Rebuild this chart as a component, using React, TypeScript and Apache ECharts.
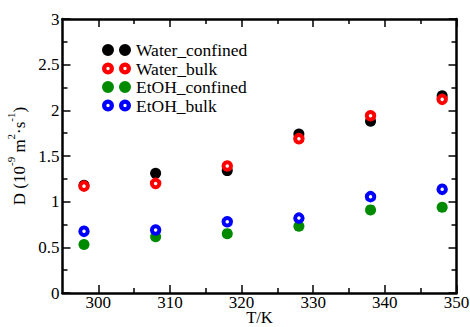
import React, { useEffect, useRef } from "react";
import * as echarts from "echarts";

const temperatures = [298, 308, 318, 328, 338, 348];
const waterConfined = [1.18, 1.31, 1.34, 1.74, 1.88, 2.16];
const waterBulk = [1.17, 1.2, 1.39, 1.69, 1.94, 2.12];
const etohConfined = [0.53, 0.615, 0.65, 0.73, 0.91, 0.94];
const etohBulk = [0.675, 0.69, 0.78, 0.82, 1.055, 1.135];
const xMajorTicks = [300, 310, 320, 330, 340, 350];
const xMinorTicks = [305, 315, 325, 335, 345];

const FONT = "Liberation Serif, Times New Roman, serif";
const TWO_DOTS =
  "path://M0,6a6,6 0 1,0 12,0a6,6 0 1,0 -12,0M17,6a6,6 0 1,0 12,0a6,6 0 1,0 -12,0";
const TWO_RINGS =
  "path://M0,6a6,6 0 1,0 12,0a6,6 0 1,0 -12,0M4.3,6a1.7,1.7 0 1,1 3.4,0a1.7,1.7 0 1,1 -3.4,0" +
  "M17,6a6,6 0 1,0 12,0a6,6 0 1,0 -12,0M21.3,6a1.7,1.7 0 1,1 3.4,0a1.7,1.7 0 1,1 -3.4,0";

export default function App() {
  const ref = useRef<HTMLDivElement>(null);
  useEffect(() => {
    if (!ref.current) return;
    const chart = echarts.init(ref.current, undefined, { renderer: "svg" });
    const pair = (xs: number[], ys: number[]) => xs.map((x, i) => [x, ys[i]]);
    const lineStyle = { color: "#000", width: 2.5 };
    const tickStyle = { color: "#000", width: 1.5 };
    const baseX = {
      type: "value",
      min: 295,
      max: 350,
      splitLine: { show: false },
    };
    const baseY = {
      type: "value",
      min: 0,
      max: 3,
      interval: 0.5,
      splitLine: { show: false },
      axisLine: { show: true, onZero: false, lineStyle },
      axisTick: { inside: true, length: 8, lineStyle: tickStyle },
      minorTick: { show: true, splitNumber: 2, length: 5, lineStyle: tickStyle },
    };
    const filled = (name: string, color: string, data: number[]) => ({
      name,
      type: "scatter",
      data: pair(temperatures, data),
      symbol: "circle",
      symbolSize: 11,
      itemStyle: { color, opacity: 1 },
    });
    const hollow = (name: string, color: string, data: number[]) => ({
      name,
      type: "scatter",
      data: pair(temperatures, data),
      symbol: "circle",
      symbolSize: 7.5,
      itemStyle: { color: "#fff", borderColor: color, borderWidth: 4, opacity: 1 },
    });
    chart.setOption({
      animation: false,
      backgroundColor: "#fff",
      textStyle: { fontFamily: FONT },
      grid: { left: 62.5, right: 13.5, top: 19, bottom: 34, outerBoundsMode: "none", containLabel: false },
      legend: {
        orient: "vertical",
        left: 102,
        top: 41,
        padding: 0,
        itemWidth: 29,
        itemHeight: 12,
        itemGap: 0.5,
        selectedMode: false,
        textStyle: { fontFamily: FONT, fontSize: 17.5, color: "#000", lineHeight: 18 },
        data: [
          { name: "Water_confined", icon: TWO_DOTS, itemStyle: { color: "#000", borderWidth: 0 } },
          { name: "Water_bulk", icon: TWO_RINGS, itemStyle: { color: "#ff0000", borderWidth: 0 } },
          { name: "EtOH_confined", icon: TWO_DOTS, itemStyle: { color: "#008a00", borderWidth: 0 } },
          { name: "EtOH_bulk", icon: TWO_RINGS, itemStyle: { color: "#0000ff", borderWidth: 0 } },
        ],
      },
      xAxis: [
        {
          ...baseX,
          position: "bottom",
          name: "T/K",
          nameLocation: "middle",
          nameGap: 24.5,
          nameMoveOverlap: false,
          nameTextStyle: { fontFamily: FONT, fontSize: 16.5, color: "#000", verticalAlign: "middle", lineHeight: 13 },
          axisLine: { show: true, onZero: false, lineStyle },
          axisTick: { inside: true, length: 8, customValues: xMajorTicks, lineStyle: tickStyle },
          axisLabel: { customValues: xMajorTicks, fontFamily: FONT, fontSize: 17, color: "#000", margin: 3, lineHeight: 13 },
        },
        {
          ...baseX,
          position: "bottom",
          axisLine: { show: false, onZero: false },
          axisTick: { inside: true, length: 5, customValues: xMinorTicks, lineStyle: tickStyle },
          axisLabel: { show: false },
        },
        {
          ...baseX,
          position: "top",
          axisLine: { show: true, onZero: false, lineStyle },
          axisTick: { inside: true, length: 8, customValues: xMajorTicks, lineStyle: tickStyle },
          axisLabel: { show: false },
        },
        {
          ...baseX,
          position: "top",
          axisLine: { show: false, onZero: false },
          axisTick: { inside: true, length: 5, customValues: xMinorTicks, lineStyle: tickStyle },
          axisLabel: { show: false },
        },
      ],
      yAxis: [
        {
          ...baseY,
          position: "left",
          name: "{n|D (10}{s|-9}{n| m}{s|2}{n|·s}{s|-1}{n|)}",
          nameLocation: "middle",
          nameGap: 35,
          nameRotate: 90,
          nameMoveOverlap: false,
          nameTextStyle: {
            fontFamily: FONT,
            color: "#000",
            rich: {
              n: { fontFamily: FONT, fontSize: 17, color: "#000", lineHeight: 22, verticalAlign: "bottom" },
              s: { fontFamily: FONT, fontSize: 11, color: "#000", lineHeight: 22, verticalAlign: "top" },
            },
          },
          axisLabel: { fontFamily: FONT, fontSize: 17, color: "#000", margin: 3 },
        },
        {
          ...baseY,
          position: "right",
          axisLabel: { show: false },
        },
      ],
      series: [
        filled("Water_confined", "#000", waterConfined),
        hollow("Water_bulk", "#ff0000", waterBulk),
        filled("EtOH_confined", "#008a00", etohConfined),
        hollow("EtOH_bulk", "#0000ff", etohBulk),
      ],
    });
    return () => chart.dispose();
  }, []);
  return <div ref={ref} style={{ width: 470, height: 327, position: "absolute", left: 0, top: 0 }} />;
}
